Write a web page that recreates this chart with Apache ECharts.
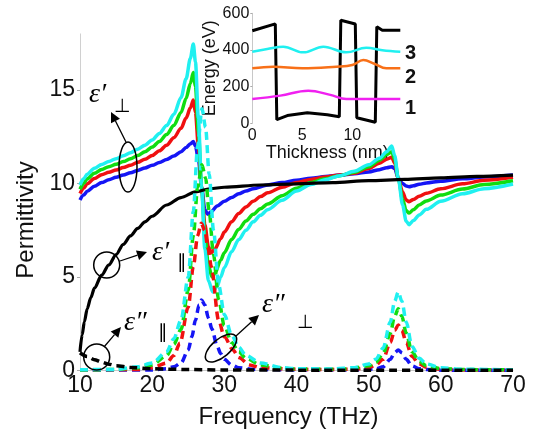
<!DOCTYPE html>
<html>
<head>
<meta charset="utf-8">
<script src="https://cdn.jsdelivr.net/npm/echarts@6/dist/echarts.min.js"></script>
<style>
  html, body { margin: 0; padding: 0; background: #fff; }
  #chart { width: 533px; height: 437px; }
</style>
</head>
<body>
<div id="chart"></div>
<script>
// main axes
const freqTicks = [10, 20, 30, 40, 50, 60, 70]
const permTicks = [0, 5, 10, 15]

// eps' parallel (black solid) and eps'' parallel (black dashed)
const epsParaReal = [[10,1.0],[10.3,1.9],[10.6,2.6],[11,3.3],[11.5,3.9],[12,4.4],[13,5.1],[14,5.65],[15,6.2],[16,6.75],[17,7.2],[18,7.6],[19,7.95],[20,8.25],[22,8.85],[24,9.25],[26,9.55],[28,9.72],[30,9.8],[35,9.92],[40,9.98],[45,10.05],[50,10.15],[55,10.22],[60,10.3],[65,10.38],[70,10.45]]
const epsParaImag = [[10,0.95],[11,0.75],[12,0.58],[13,0.45],[14,0.34],[15,0.26],[17,0.16],[20,0.09],[25,0.05],[30,0.03],[40,0.02],[50,0.015],[70,0.01]]

// eps' perpendicular, one per sample (blue, red, green, cyan)
const epsPerpRealBlue = [[10,9.12],[10.5,9.38],[11,9.58],[12,9.85],[13,10.05],[14,10.2],[15,10.33],[16,10.45],[17,10.57],[18,10.7],[19,10.83],[20,10.97],[21,11.12],[22,11.28],[23,11.47],[24,11.7],[24.7,11.92],[25.3,12.12],[25.7,12.24],[26.0,12.0],[26.4,11.3],[26.85,9.8],[27.3,8.6],[27.7,8.35],[28.2,8.5],[29,8.8],[30,9.05],[31,9.25],[32,9.45],[33,9.6],[34,9.72],[36,9.92],[38,10.05],[40,10.18],[42,10.28],[44,10.37],[46,10.45],[48,10.52],[50,10.62],[51.5,10.74],[52.5,10.84],[53.2,10.9],[53.6,10.8],[54.1,10.28],[54.7,10.0],[55.2,9.87],[55.6,9.83],[56.2,9.88],[57,9.96],[58,10.03],[60,10.12],[63,10.25],[66,10.35],[70,10.45]]
const epsPerpRealRed = [[10,9.47],[10.5,9.75],[11,9.98],[12,10.27],[13,10.47],[14,10.6],[15,10.72],[16,10.85],[17,10.98],[18,11.13],[19,11.3],[20,11.5],[21,11.75],[22,12.05],[23,12.45],[24,12.95],[24.7,13.5],[25.3,14.05],[25.7,14.47],[26.0,13.8],[26.4,12.0],[26.85,9.8],[27.3,7.8],[27.8,6.6],[28.2,6.3],[28.7,6.5],[29.5,7.05],[30,7.4],[31,7.95],[32,8.4],[33,8.75],[34,9.05],[35,9.3],[36,9.5],[38,9.8],[40,10.05],[42,10.22],[44,10.35],[46,10.45],[48,10.55],[50,10.8],[51.5,11.08],[52.5,11.3],[53.2,11.4],[53.6,11.1],[54.1,10.28],[54.7,9.55],[55.2,9.12],[55.6,9.03],[56.2,9.15],[57,9.32],[58,9.48],[60,9.72],[63,9.98],[66,10.17],[70,10.33]]
const epsPerpRealGreen = [[10,9.69],[10.5,10.0],[11,10.25],[12,10.55],[13,10.75],[14,10.9],[15,11.03],[16,11.17],[17,11.32],[18,11.5],[19,11.7],[20,11.95],[21,12.25],[22,12.62],[23,13.1],[24,13.8],[24.7,14.55],[25.3,15.35],[25.7,15.93],[26.0,15.2],[26.4,12.8],[26.85,9.8],[27.3,7.2],[27.8,5.6],[28.3,5.0],[28.7,5.2],[29.5,5.9],[30,6.3],[31,7.0],[32,7.55],[33,8.0],[34,8.35],[35,8.65],[36,8.9],[38,9.35],[40,9.75],[42,10.05],[44,10.25],[46,10.42],[48,10.6],[50,10.9],[51.5,11.25],[52.5,11.55],[53.2,11.7],[53.6,11.3],[54.1,10.28],[54.7,9.15],[55.2,8.55],[55.6,8.42],[56.2,8.6],[57,8.85],[58,9.07],[60,9.38],[63,9.7],[66,9.95],[70,10.15]]
const epsPerpRealCyan = [[10,9.92],[10.5,10.25],[11,10.5],[12,10.82],[13,11.02],[14,11.18],[15,11.33],[16,11.48],[17,11.64],[18,11.83],[19,12.05],[20,12.33],[21,12.68],[22,13.1],[23,13.7],[24,14.6],[24.7,15.6],[25.3,16.7],[25.7,17.46],[26.0,16.5],[26.4,13.5],[26.85,9.8],[27.3,6.5],[27.8,4.8],[28.4,4.2],[29,4.5],[29.5,5.0],[30,5.5],[31,6.35],[32,7.0],[33,7.5],[34,7.95],[35,8.3],[36,8.6],[38,9.1],[40,9.6],[42,9.95],[44,10.2],[46,10.42],[48,10.65],[50,11.0],[51.5,11.35],[52.5,11.7],[53.2,12.0],[53.6,11.5],[54.1,10.28],[54.7,8.85],[55.2,7.98],[55.6,7.8],[56.2,8.02],[57,8.32],[58,8.62],[60,9.05],[63,9.45],[66,9.72],[70,9.97]]

// eps'' perpendicular
const epsPerpImagBlue = [[10,0.01],[20,0.03],[22,0.1],[23,0.2],[24,0.4],[25,1.1],[25.5,1.8],[26,2.7],[26.5,3.5],[26.85,3.77],[27.3,3.5],[27.8,2.8],[28.3,2.2],[29,1.3],[29.5,0.9],[30,0.6],[31,0.3],[32,0.15],[34,0.07],[40,0.03],[48,0.03],[51,0.08],[52,0.2],[53,0.6],[53.6,0.95],[54.1,1.1],[54.6,0.95],[55.2,0.6],[56,0.25],[57,0.1],[58,0.05],[60,0.02],[70,0.01]]
const epsPerpImagRed = [[10,0.02],[18,0.05],[20,0.15],[22,0.4],[23,0.8],[23.85,1.46],[25,3.4],[25.7,5.55],[26.3,7.2],[26.8,7.87],[27.3,7.5],[27.7,6.6],[28.2,5.55],[29.2,2.7],[30,1.8],[31.2,1.1],[32,0.7],[33.5,0.3],[35,0.15],[40,0.06],[45,0.05],[48,0.07],[50,0.15],[51,0.3],[52,0.6],[53,1.5],[53.6,2.15],[54.1,2.43],[54.6,2.15],[55.2,1.5],[56,0.75],[57,0.35],[58,0.18],[60,0.07],[63,0.03],[70,0.02]]
const epsPerpImagGreen = [[10,0.03],[15,0.05],[18,0.15],[20,0.3],[22,0.8],[23,1.4],[24,2.2],[25,4.3],[25.7,7.2],[26.3,9.8],[26.9,11.0],[27.4,10.3],[27.9,8.5],[28.5,6.2],[29.2,3.8],[30,2.4],[31,1.5],[32,1.0],[33,0.65],[35,0.3],[38,0.12],[40,0.08],[45,0.07],[47,0.08],[50,0.25],[51,0.45],[52,0.9],[53,2.0],[53.6,2.9],[54.1,3.3],[54.6,2.9],[55.2,2.0],[56,1.0],[57,0.5],[58,0.25],[60,0.1],[63,0.05],[70,0.03]]
const epsPerpImagCyan = [[10,0.04],[15,0.06],[18,0.2],[20,0.4],[22,1.0],[23,1.7],[24,2.7],[25,5.0],[25.7,8.5],[26.3,12.0],[26.9,14.0],[27.4,13.0],[27.9,10.5],[28.5,7.5],[29.2,4.6],[30,3.0],[31,1.9],[32,1.25],[33,0.8],[35,0.4],[38,0.15],[40,0.1],[45,0.08],[48,0.15],[50,0.35],[51,0.6],[52,1.2],[53,2.6],[53.6,3.7],[54.1,4.2],[54.6,3.7],[55.2,2.6],[56,1.3],[57,0.65],[58,0.35],[60,0.15],[63,0.07],[70,0.03]]

// inset: band profile and subband levels
const thickTicks = [0, 5, 10]
const energyTicks = [0, 200, 400, 600]
const bandProfile = [[0,505],[2.3,542],[2.45,20],[3.5,42],[5.5,57],[7.5,47],[8.7,36],[8.85,562],[10.3,542],[10.45,30],[12.3,6],[12.45,527],[13,507],[14.8,507]]
const level3 = [[0,390],[1.5,405],[3.1,418],[5.1,387],[7.1,418],[9.4,387],[11.4,412],[13,398],[14.8,390]]
const level2 = [[0,300],[2.1,309],[5,300],[8.4,309],[10,318],[11.1,345],[12.2,325],[13.4,300],[14.8,300]]
const level1 = [[0,132],[2.8,151],[5.6,178],[7.8,155],[9.4,132],[14.8,132]]
const levelNames = ["1", "2", "3"]

const COLORS = { blue: "#1515f5", red: "#f01010", green: "#10dd10", cyan: "#20f0f0", orange: "#f87018", magenta: "#f020f0" }
const SANS = '"Liberation Sans", Arial, sans-serif'
const SERIF = '"Liberation Serif", "DejaVu Serif", serif'

function solid(data, color, width) {
  return {
    type: "line", data, showSymbol: false, smooth: 0.3, smoothMonotone: "x",
    lineStyle: { color, width }, silent: true,
  }
}

function dashed(data, color) {
  return {
    type: "line", data, showSymbol: false, smooth: 0.3, smoothMonotone: "x",
    lineStyle: { color, width: 3.5, type: [8, 5] }, silent: true,
  }
}

function insetLine(data, color, smooth) {
  return {
    type: "line", data, xAxisIndex: 1, yAxisIndex: 1, showSymbol: false,
    smooth: smooth ? 0.4 : false, lineStyle: { color, width: smooth ? 2.5 : 3 }, silent: true,
  }
}

function arrow(x1, y1, x2, y2) {
  const a = Math.atan2(y2 - y1, x2 - x1), L = 10, W = 5
  const bx = x2 - L * Math.cos(a), by = y2 - L * Math.sin(a)
  const px = -Math.sin(a) * W, py = Math.cos(a) * W
  return [
    { type: "line", z: 100, shape: { x1, y1, x2: bx, y2: by }, style: { stroke: "#000", lineWidth: 1.3 } },
    { type: "polygon", z: 100, shape: { points: [[x2, y2], [bx + px, by + py], [bx - px, by - py]] }, style: { fill: "#000" } },
  ]
}

function ring(cx, cy, rx, ry, deg) {
  return {
    type: "ellipse", z: 100, x: cx, y: cy, rotation: (deg || 0) * Math.PI / 180,
    shape: { cx: 0, cy: 0, rx, ry }, style: { fill: "none", stroke: "#000", lineWidth: 1.5 },
  }
}

function label(text, x, y, font) {
  return { type: "text", z: 100, x, y, style: { text, font, fill: "#000", align: "left", verticalAlign: "middle" } }
}

function epsLabel(main, sub, x, y, subDx, subDy) {
  return [
    label(main, x, y, "italic 28px " + SERIF),
    label(sub, x + subDx, y + subDy, '19px "DejaVu Sans", sans-serif'),
  ]
}

function buildOption() {
  const graphic = [
    // eps' perp
    ring(128, 167, 9, 25), ...arrow(126, 142, 111, 112), ...epsLabel("ε′", "⊥", 89, 95, 25, 12),
    // eps' parallel
    ring(106.7, 265, 13, 13), ...arrow(120, 261, 147, 252), ...epsLabel("ε′", "∥", 152, 253, 25, 10),
    // eps'' parallel
    ring(96.7, 357, 13, 13), ...arrow(104, 347, 121, 327), ...epsLabel("ε″", "∥", 124, 323, 34, 10),
    // eps'' perp
    ring(221, 348, 19, 9, 40), ...arrow(236, 336, 259, 315), ...epsLabel("ε″", "⊥", 262, 305, 35, 18),
    // inset level numbers
    ...levelNames.map((n, i) => ({
      type: "text", z: 100, x: 405, y: [108, 77, 53][i],
      style: { text: n, font: 'bold 20px ' + SANS, fill: "#111", align: "left", verticalAlign: "middle" },
    })),
    {
      type: "text", z: 100, x: 26, y: 220, rotation: Math.PI / 2,
      style: { text: "Permittivity", font: "24px " + SANS, fill: "#111", align: "center", verticalAlign: "middle" },
    },
  ]

  return {
    animation: false,
    backgroundColor: "#fff",
    grid: [
      { left: 80, top: 33.9, width: 433, height: 336.6 },
      { left: 252.3, top: 13.3, width: 150, height: 110 },
    ],
    xAxis: [
      {
        type: "value", min: 10, max: 70, interval: 10, gridIndex: 0,
        name: "Frequency (THz)", nameLocation: "middle", nameGap: 35,
        nameTextStyle: { fontFamily: SANS, fontSize: 24, color: "#111", padding: [0, 16, 0, 0] },
        axisLine: { show: true, lineStyle: { color: "#c8c8c8" } },
        axisTick: { show: false },
        axisLabel: { customValues: freqTicks, fontFamily: SANS, fontSize: 23, color: "#111", margin: 4 },
        splitLine: { show: false },
      },
      {
        type: "value", min: 0, max: 15, gridIndex: 1,
        name: "Thickness (nm)", nameLocation: "middle", nameGap: 18,
        nameTextStyle: { fontFamily: SANS, fontSize: 18, color: "#111", verticalAlign: "top" },
        axisLine: { show: false },
        axisTick: { show: false },
        axisLabel: { customValues: thickTicks, fontFamily: SANS, fontSize: 16, color: "#111", margin: 4 },
        splitLine: { show: false },
      },
    ],
    yAxis: [
      {
        type: "value", min: 0, max: 18, gridIndex: 0,
        axisLine: { show: true, lineStyle: { color: "#d0d0d0" } },
        axisTick: { show: true, customValues: permTicks, length: 3, lineStyle: { color: "#aaa" } },
        axisLabel: { customValues: permTicks, fontFamily: SANS, fontSize: 23, color: "#111", margin: 5 },
        splitLine: { show: false },
      },
      {
        type: "value", min: 0, max: 600, gridIndex: 1,
        name: "Energy (eV)", nameLocation: "middle", nameGap: 31,
        nameTextStyle: { fontFamily: SANS, fontSize: 18, color: "#111" },
        axisLine: { show: true, lineStyle: { color: "#c8c8c8" } },
        axisTick: { show: true, customValues: energyTicks, length: 2, lineStyle: { color: "#aaa" } },
        axisLabel: { customValues: energyTicks, fontFamily: SANS, fontSize: 16, color: "#111", margin: 3 },
        splitLine: { show: false },
      },
    ],
    series: [
      solid(epsPerpRealBlue, COLORS.blue, 3.5),
      solid(epsPerpRealRed, COLORS.red, 3.5),
      solid(epsPerpRealGreen, COLORS.green, 3.5),
      solid(epsPerpRealCyan, COLORS.cyan, 3.5),
      solid(epsParaReal, "#000", 3.2),
      dashed(epsPerpImagBlue, COLORS.blue),
      dashed(epsPerpImagRed, COLORS.red),
      dashed(epsPerpImagGreen, COLORS.green),
      dashed(epsPerpImagCyan, COLORS.cyan),
      dashed(epsParaImag, "#000"),
      insetLine(bandProfile, "#000", false),
      insetLine(level3, COLORS.cyan, true),
      insetLine(level2, COLORS.orange, true),
      insetLine(level1, COLORS.magenta, true),
    ],
    graphic,
  }
}

const chart = echarts.init(document.getElementById("chart"), null, { renderer: "canvas" })
chart.setOption(buildOption())
</script>
</body>
</html>
